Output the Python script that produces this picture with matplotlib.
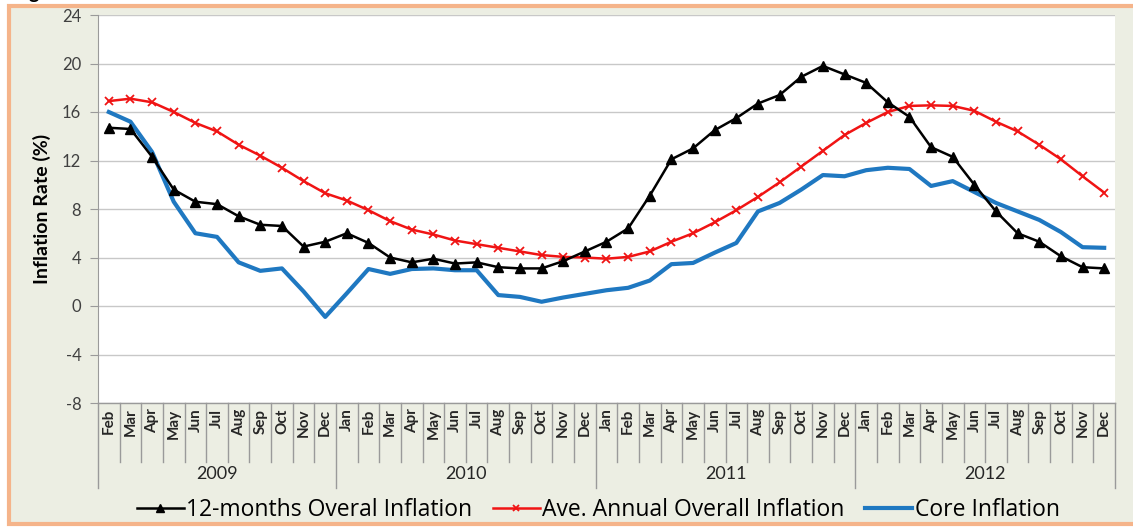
import numpy as np
import matplotlib.pyplot as plt
from matplotlib.patches import Rectangle
import matplotlib.transforms as mtransforms

plt.rcParams['font.family'] = ['Lato', 'DejaVu Sans']
plt.rcParams['axes.unicode_minus'] = False

months = ['Feb', 'Mar', 'Apr', 'May', 'Jun', 'Jul', 'Aug', 'Sep', 'Oct', 'Nov', 'Dec'] + \
         ['Jan', 'Feb', 'Mar', 'Apr', 'May', 'Jun', 'Jul', 'Aug', 'Sep', 'Oct', 'Nov', 'Dec'] * 3
years = ['2009', '2010', '2011', '2012']
year_len = [11, 12, 12, 12]

overall_12m = [14.7, 14.6, 12.3, 9.6, 8.6, 8.4, 7.4, 6.7, 6.6, 4.9, 5.3,
               6.0, 5.2, 4.0, 3.6, 3.9, 3.5, 3.6, 3.2, 3.1, 3.1, 3.7, 4.5,
               5.3, 6.4, 9.1, 12.1, 13.0, 14.5, 15.5, 16.7, 17.4, 18.9, 19.8, 19.1,
               18.4, 16.8, 15.6, 13.1, 12.3, 10.0, 7.8, 6.0, 5.3, 4.1, 3.2, 3.1]
ave_annual = [16.9, 17.1, 16.8, 16.0, 15.1, 14.4, 13.3, 12.4, 11.4, 10.3, 9.3,
              8.7, 7.9, 7.0, 6.3, 5.9, 5.4, 5.1, 4.8, 4.5, 4.2, 4.05, 4.0,
              3.9, 4.05, 4.5, 5.3, 6.0, 6.9, 7.9, 9.0, 10.2, 11.5, 12.8, 14.1,
              15.1, 16.0, 16.5, 16.55, 16.5, 16.1, 15.2, 14.4, 13.3, 12.1, 10.7, 9.35]
core = [16.0, 15.2, 12.7, 8.6, 6.0, 5.7, 3.6, 2.9, 3.1, 1.2, -0.9,
        1.05, 3.05, 2.65, 3.05, 3.1, 2.95, 2.95, 0.9, 0.75, 0.35, 0.7, 1.0,
        1.3, 1.5, 2.1, 3.45, 3.55, 4.4, 5.2, 7.8, 8.5, 9.6, 10.8, 10.7,
        11.2, 11.4, 11.3, 9.9, 10.3, 9.4, 8.5, 7.8, 7.1, 6.1, 4.85, 4.8]

W, H = 1133, 527
fig = plt.figure(figsize=(W / 100, H / 100), dpi=100, facecolor='white')

# pale panel with orange frame
fig.patches.append(Rectangle((9 / W, 3 / H), 1.1, 1 - 9 / H, transform=fig.transFigure,
                             facecolor='#ECEEE3', edgecolor='#F5B48A', linewidth=3, zorder=-5))
fig.text(0.012, 1 + 1.5 / H, 'Fig', fontsize=14, fontweight='bold', ha='left', va='baseline')

ax = fig.add_axes([98 / W, 1 - 403 / H, (1115 - 98) / W, (403 - 15) / H])
ax.set_facecolor('white')

x = np.arange(len(months))
ax.plot(x, core, color='#1F78C1', linewidth=3, zorder=3, label='Core Inflation')
ax.plot(x, ave_annual, color='#F01414', linewidth=1.8, marker='x', markersize=6,
        markeredgewidth=1.3, zorder=4, label='Ave. Annual Overall Inflation')
ax.plot(x, overall_12m, color='black', linewidth=1.8, marker='^', markersize=7,
        zorder=5, label='12-months Overal Inflation')

ax.set_xlim(-0.5, len(months) - 0.5)
ax.set_ylim(-8, 24)
ax.set_yticks(np.arange(-8, 25, 4))
ax.yaxis.grid(True, color='#C8C8C8', linewidth=1)
ax.set_axisbelow(True)
for s in ['top', 'right', 'bottom']:
    ax.spines[s].set_visible(False)
ax.spines['left'].set_color('#9A9A9A')
ax.tick_params(axis='y', direction='out', length=6, color='#9A9A9A', labelsize=12,
               labelcolor='#404040', pad=6)
ax.set_ylabel('Inflation Rate (%)', fontsize=14, fontweight='bold', labelpad=8)

ax.set_xticks(x)
ax.set_xticklabels(months, rotation=90, fontsize=11, fontweight='bold', color='#262626')
ax.tick_params(axis='x', length=0, pad=4)

# category divider lines below the axis
trans = mtransforms.blended_transform_factory(ax.transData, ax.transAxes)
h = ax.get_position().height * H
lo_m = -(462 - 403) / h
lo_y = -(488 - 403) / h
bounds = np.cumsum([0] + year_len) - 0.5
for b in np.arange(len(months) + 1) - 0.5:
    lo = lo_y if b in bounds else lo_m
    ax.plot([b, b], [0, lo], color='#9A9A9A', linewidth=1, transform=trans, clip_on=False)
ax.plot([-0.5, len(months) - 0.5], [0, 0], color='#9A9A9A', linewidth=1, transform=trans,
        clip_on=False)
for i, yr in enumerate(years):
    c = (bounds[i] + bounds[i + 1]) / 2
    ax.text(c, -(474 - 403) / h, yr, transform=trans, ha='center', va='center',
            fontsize=13, color='#262626')

handles, labels = ax.get_legend_handles_labels()
order = [2, 1, 0]
fig.legend([handles[i] for i in order], [labels[i] for i in order], loc='center',
           bbox_to_anchor=(0.528, 1 - 510 / H), ncol=3, frameon=False,
           prop={'family': 'Open Sans', 'size': 16.5},
           handlelength=2.05, handletextpad=0.1, columnspacing=0.9, markerscale=0.8)

fig.savefig('out.png', dpi=100, facecolor=fig.get_facecolor())
